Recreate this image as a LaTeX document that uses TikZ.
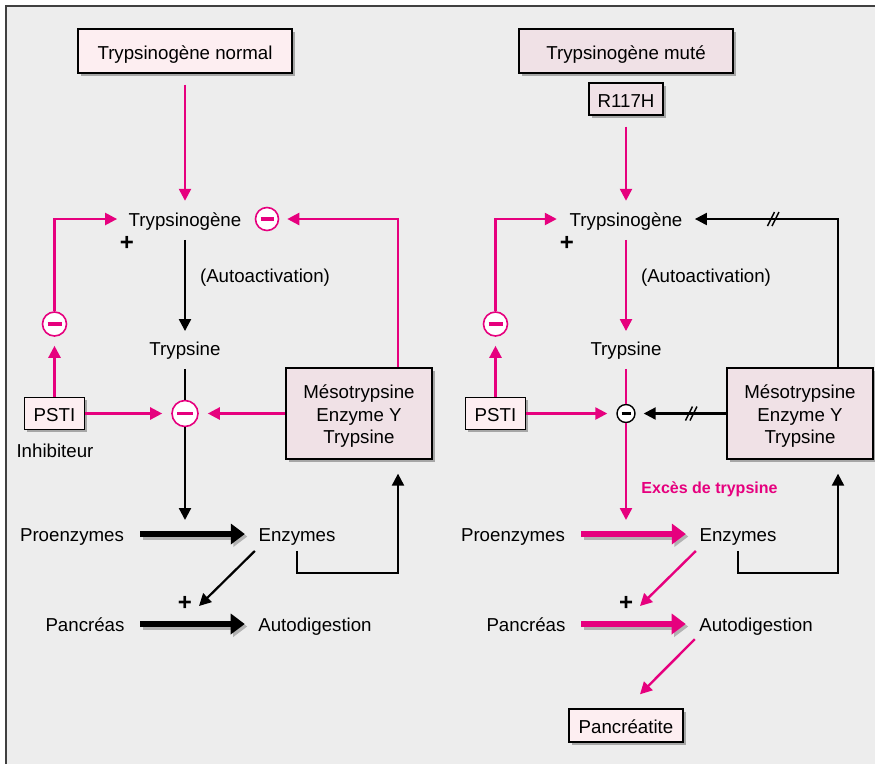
\documentclass[tikz,border=0pt]{standalone}
\usepackage{fontspec}
\setmainfont{Liberation Sans}
\usetikzlibrary{arrows.meta,shadows,calc}
\definecolor{pinkM}{RGB}{230,0,126}
\definecolor{bgG}{RGB}{237,237,237}
\definecolor{boxL}{RGB}{253,238,241}
\definecolor{boxD}{RGB}{240,225,230}
\definecolor{frameG}{RGB}{64,64,64}
\newcommand{\mesotext}{\raisebox{-3pt}[\height][\depth]{\begin{tabular}{@{}c@{}}Mésotrypsine\\Enzyme Y\\Trypsine\end{tabular}}}
\tikzset{
 txt/.style={inner sep=0pt, text height=16.5pt, text depth=1pt},
 plussign/.style={inner sep=0pt, font=\fontsize{24}{28}\selectfont\bfseries},
 boxbase/.style={draw=black, line width=1.3pt, inner sep=0pt, align=center,
   drop shadow={shadow xshift=2.5pt, shadow yshift=-2.5pt, fill=black!35, opacity=1}},
 onebox/.style={text height=17pt, text depth=0.5pt},
 boxl/.style={boxbase, fill=boxL},
 boxd/.style={boxbase, fill=boxD},
 minus/.style={circle, draw=pinkM, line width=1.6pt, fill=white, inner sep=0pt, minimum size=#1},
 pa/.style={draw=pinkM, line width=2.4pt, -{Triangle[length=12pt,width=12pt]}},
 pl/.style={draw=pinkM, line width=2.4pt},
 ba/.style={draw=black, line width=2.2pt, -{Triangle[length=12pt,width=12pt]}},
 bl/.style={draw=black, line width=2.2pt},
 fat/.style={line width=6.5pt, -{Triangle[length=14pt,width=20pt]}},
 fatshadow/.style={fat, draw=black!30, transform canvas={shift={(2.5pt,-2.5pt)}}},
 brk/.pic={\draw[line width=1.4pt] (-5.5,7) -- (1.5,-7) (-1,7) -- (6,-7);},
}
\begin{document}
\begin{tikzpicture}[x=1pt,y=-1pt, every node/.append style={font=\fontsize{18.7}{22.5}\selectfont}]
\useasboundingbox (0,0) rectangle (875,764);
\fill[bgG] (6,6) rectangle (875,764);
\draw[frameG, line width=2pt] (6,764) -- (6,6) -- (875,6);

% ---------------- left panel ----------------
\node[boxl, onebox, minimum width=214pt, minimum height=44pt] (tn) at (185,51) {Trypsinogène normal};
\node[txt] (tg) at (185,219) {Trypsinogène};
\node[minus=23pt] (m1) at (267,219) {\color{pinkM}\rule{13pt}{3.5pt}};
\node[plussign] (p1) at (127,243) {+};
\node[txt] (aa1) at (265,275) {(Autoactivation)};
\node[txt] (ts) at (185,348) {Trypsine};
\node[minus=24pt] (m2) at (54.5,324) {\color{pinkM}\rule{14pt}{3.5pt}};
\node[boxl, onebox, minimum width=60pt, minimum height=32pt] (psti) at (54.5,413.5) {PSTI};
\node[txt] (inh) at (55,450) {Inhibiteur};
\node[minus=26pt] (m3) at (185,413.5) {\color{pinkM}\rule{16pt}{3.5pt}};
\node[boxd, minimum width=146pt, minimum height=91pt] (meso) at (359,413.5) {\mesotext};
\node[txt] (pro) at (72,534) {Proenzymes};
\node[txt] (enz) at (297,534) {Enzymes};
\node[txt] (pan) at (85,624) {Pancréas};
\node[txt] (adg) at (315,624) {Autodigestion};
\node[plussign] (p2) at (185,603) {+};
\coordinate (k1) at (185,520);
\coordinate (c1) at (297,573);
\coordinate (k2) at (199,606);

\draw[pa, shorten <=11pt, shorten >=9.25pt] (tn.south) -- (tg.north);
\draw[pa, shorten >=8pt] ([xshift=39pt]meso.north) |- (m1.east);
\draw[pa, shorten >=9pt] (psti.north) -- (m2.south);
\draw[pa, shorten >=11.4pt] (m2.north) |- (tg.west);
\draw[ba, shorten <=12pt, shorten >=8pt] (tg.south) -- (ts.north);
\draw[bl, shorten <=12pt] (ts.south) -- (m3.north);
\draw[ba] (m3.south) -- (k1);
\draw[pa, shorten >=9pt] (psti.east) -- (m3.west);
\draw[pa, shorten >=9pt] (meso.west) -- (m3.east);
\draw[fatshadow, shorten <=16pt, shorten >=13.5pt] (pro.east) -- (enz.west);
\draw[fat, shorten <=16pt, shorten >=13.5pt] (pro.east) -- (enz.west);
\draw[ba, shorten <=8pt, shorten >=14pt] (enz.south) -- (c1) -| ([xshift=39pt]meso.south);
\draw[ba] ([shift={(-3.5pt,-8pt)}]enz.south west) -- (k2);
\draw[fatshadow, shorten <=15.5pt, shorten >=13.4pt] (pan.east) -- (adg.west);
\draw[fat, shorten <=15.5pt, shorten >=13.4pt] (pan.east) -- (adg.west);

% ---------------- right panel ----------------
\node[boxd, onebox, minimum width=214pt, minimum height=44pt] (tm) at (626,51) {Trypsinogène muté};
\node[boxd, onebox, minimum width=74pt, minimum height=32pt] (r117) at (626,99) {R117H};
\node[txt] (tg2) at (626,219) {Trypsinogène};
\node[plussign] (p3) at (567,243) {+};
\node[txt] (aa2) at (706,275) {(Autoactivation)};
\node[txt] (ts2) at (626,348) {Trypsine};
\node[minus=24pt] (m4) at (495.5,324) {\color{pinkM}\rule{14pt}{3.5pt}};
\node[boxl, onebox, minimum width=60pt, minimum height=32pt] (psti2) at (495.5,413.5) {PSTI};
\node[circle, draw=black, line width=1.4pt, fill=white, inner sep=0pt, minimum size=18pt] (m5) at (626,413.5) {\rule{9pt}{2.8pt}};
\node[boxd, minimum width=146pt, minimum height=91pt] (meso2) at (800,413.5) {\mesotext};
\node[txt, text=pinkM, font=\fontsize{16}{19}\selectfont\bfseries] (exc) at (709.5,486) {Excès de trypsine};
\node[txt] (pro2) at (513,534) {Proenzymes};
\node[txt] (enz2) at (738,534) {Enzymes};
\node[txt] (pan2) at (526,624) {Pancréas};
\node[txt] (adg2) at (756,624) {Autodigestion};
\node[plussign] (p4) at (626,603) {+};
\node[boxl, onebox, minimum width=114pt, minimum height=33pt] (pct) at (626,725.5) {Pancréatite};
\coordinate (k3) at (626,520);
\coordinate (c2) at (738,573);
\coordinate (k4) at (640,606);

\draw[pa, shorten <=11pt, shorten >=9.25pt] (r117.south) -- (tg2.north);
\draw[ba, shorten >=12.4pt] ([xshift=38pt]meso2.north) |- (tg2.east);
\pic at (773,219) {brk};
\draw[pa, shorten >=9pt] (psti2.north) -- (m4.south);
\draw[pa, shorten >=12.7pt] (m4.north) |- (tg2.west);
\draw[pa, shorten <=12pt, shorten >=8pt] (tg2.south) -- (ts2.north);
\draw[pl, shorten <=12pt] (ts2.south) -- (m5.north);
\draw[pa] (m5.south) -- (k3);
\draw[pa, shorten >=9pt] (psti2.east) -- (m5.west);
\draw[ba, shorten >=8pt] (meso2.west) -- (m5.east);
\pic at (691,413.5) {brk};
\draw[fatshadow, shorten <=16pt, shorten >=13.5pt] (pro2.east) -- (enz2.west);
\draw[fat, draw=pinkM, shorten <=16pt, shorten >=13.5pt] (pro2.east) -- (enz2.west);
\draw[ba, shorten <=8pt, shorten >=14pt] (enz2.south) -- (c2) -| ([xshift=38pt]meso2.south);
\draw[pa] ([shift={(-3.5pt,-8pt)}]enz2.south west) -- (k4);
\draw[fatshadow, shorten <=15.5pt, shorten >=13.4pt] (pan2.east) -- (adg2.west);
\draw[fat, draw=pinkM, shorten <=15.5pt, shorten >=13.4pt] (pan2.east) -- (adg2.west);
\draw[pa, shorten >=19.8pt] ([shift={(-4.4pt,-6.25pt)}]adg2.south west) -- (pct.north);
\end{tikzpicture}
\end{document}
